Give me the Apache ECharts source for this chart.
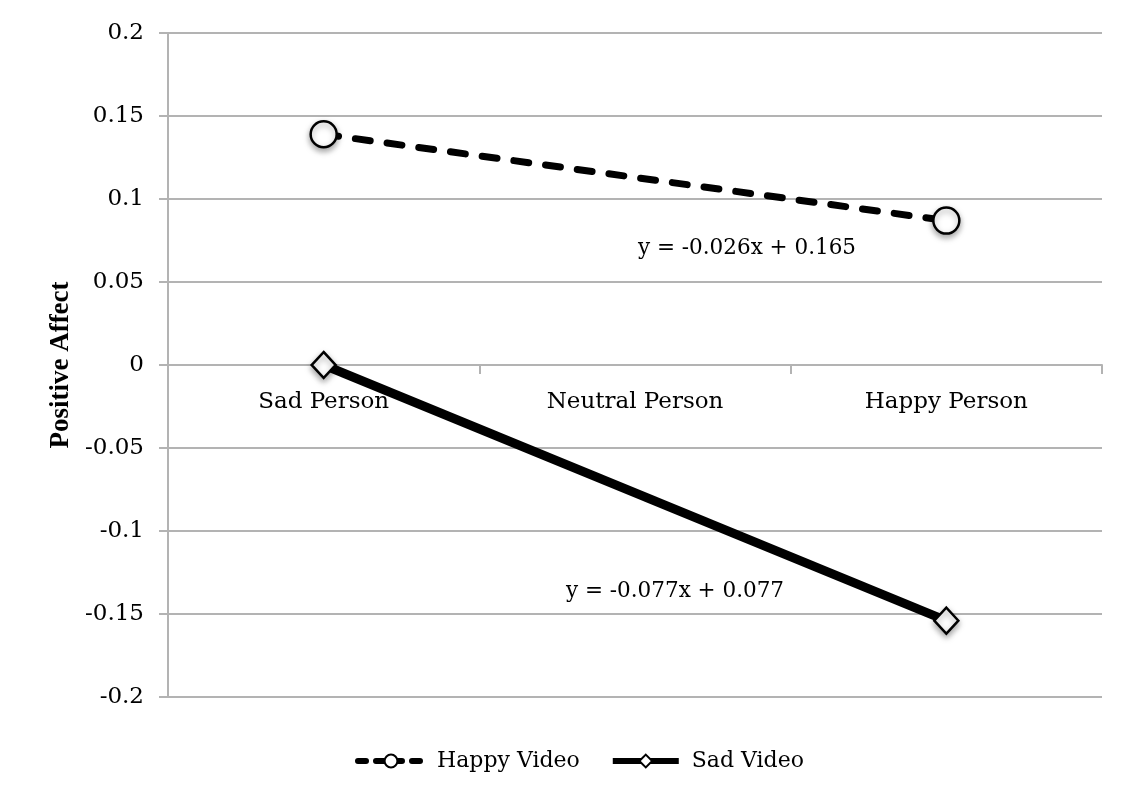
<!DOCTYPE html>
<html>
<head>
<meta charset="utf-8">
<script src="https://cdn.jsdelivr.net/npm/echarts@6/dist/echarts.min.js"></script>
<style>
  html, body { margin: 0; padding: 0; background: #fff; }
  #chart { width: 1125px; height: 803px; }
</style>
</head>
<body>
<div id="chart"></div>
<script>
const categories = ['Sad Person', 'Neutral Person', 'Happy Person']
const happyVideo = [0.139, null, 0.087]
const sadVideo = [0, null, -0.154]
const happyEq = 'y = -0.026x + 0.165'
const sadEq = 'y = -0.077x + 0.077'

const font = 'DejaVu Serif'
const gray = '#b3b3b3'

const chart = echarts.init(document.getElementById('chart'))
chart.setOption({
  animation: false,
  textStyle: { fontFamily: font, color: '#000' },
  grid: { left: 168, right: 23, top: 33, bottom: 106 },
  legend: {
    bottom: 26,
    left: 350,
    itemWidth: 66,
    itemHeight: 16,
    itemGap: 30,
    textStyle: { fontFamily: font, fontSize: 22, color: '#000', padding: [0, 0, 0, 8] },
    data: [
      { name: 'Happy Video', lineStyle: { width: 6, type: [8, 10], color: '#000' } },
      { name: 'Sad Video', lineStyle: { width: 6, color: '#000' } }
    ]
  },
  xAxis: {
    type: 'category',
    data: categories,
    axisLine: { onZero: true, lineStyle: { color: gray, width: 2 } },
    axisTick: { show: true, length: 9, lineStyle: { color: gray, width: 2 } },
    // labels sit under the zero line, not at the grid bottom
    axisLabel: { margin: -306, fontSize: 23, color: '#000', fontFamily: font }
  },
  yAxis: {
    type: 'value',
    min: -0.2,
    max: 0.2,
    interval: 0.05,
    name: 'Positive Affect',
    nameLocation: 'middle',
    nameGap: 88,
    nameTextStyle: { fontFamily: 'Liberation Serif', fontWeight: 'bold', fontSize: 27, color: '#000' },
    axisLine: { show: true, lineStyle: { color: gray, width: 2 } },
    axisTick: { show: true, length: 9, lineStyle: { color: gray, width: 2 } },
    axisLabel: { margin: 24, fontSize: 23, color: '#000', fontFamily: font },
    splitLine: { lineStyle: { color: gray, width: 2 } }
  },
  series: [
    {
      name: 'Happy Video',
      type: 'line',
      data: happyVideo,
      connectNulls: true,
      symbol: 'circle',
      symbolSize: 26,
      lineStyle: { color: '#000', width: 7, type: [15, 17], cap: 'round' },
      itemStyle: {
        color: '#fff', borderColor: '#000', borderWidth: 2.5,
        shadowBlur: 6, shadowColor: 'rgba(0,0,0,0.35)', shadowOffsetY: 3
      }
    },
    {
      name: 'Sad Video',
      type: 'line',
      data: sadVideo,
      connectNulls: true,
      symbol: 'diamond',
      symbolSize: [24, 26],
      lineStyle: { color: '#000', width: 9 },
      itemStyle: {
        color: '#fff', borderColor: '#000', borderWidth: 2.5,
        shadowBlur: 6, shadowColor: 'rgba(0,0,0,0.35)', shadowOffsetY: 3
      }
    }
  ],
  graphic: [
    {
      type: 'text', left: 638, top: 237,
      style: { text: happyEq, font: '21.5px "DejaVu Serif"', fill: '#000' }
    },
    {
      type: 'text', left: 566, top: 580,
      style: { text: sadEq, font: '21.5px "DejaVu Serif"', fill: '#000' }
    }
  ]
})
</script>
</body>
</html>
